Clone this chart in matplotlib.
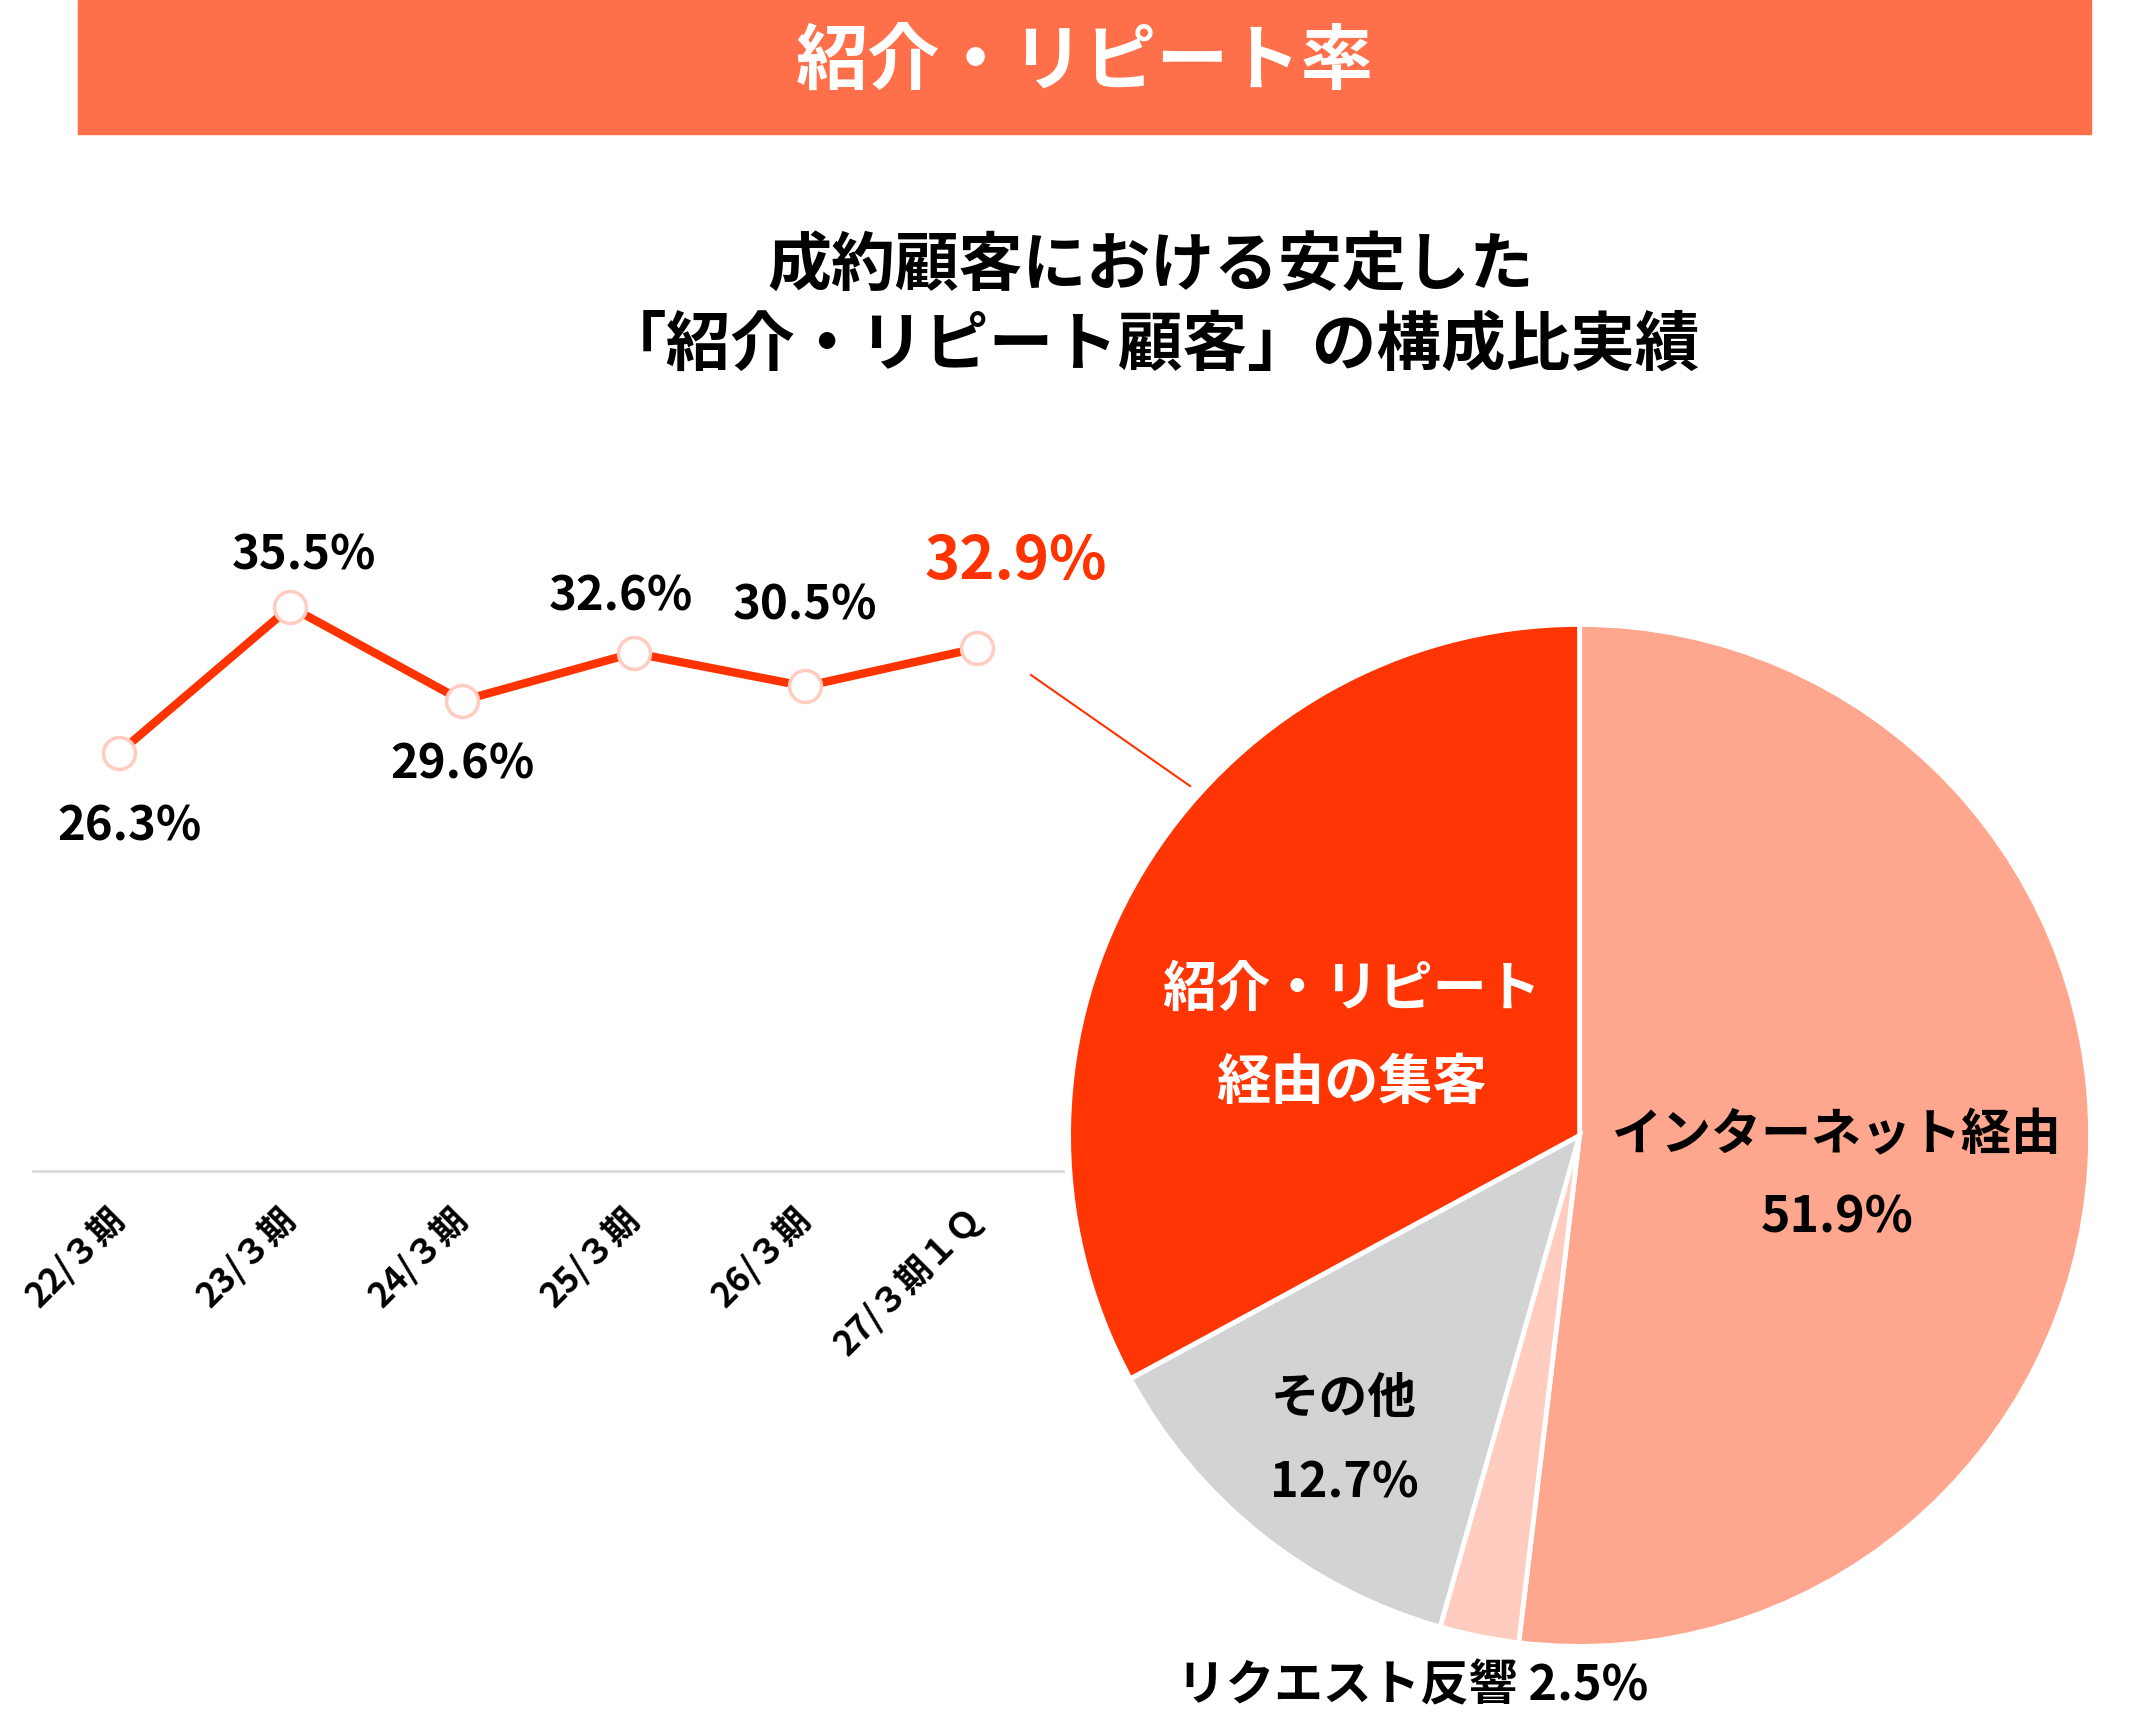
import matplotlib
matplotlib.use('Agg')
import matplotlib.pyplot as plt
from matplotlib.patches import Rectangle
from matplotlib.lines import Line2D

plt.rcParams['font.family'] = ['Noto Sans CJK JP', 'DejaVu Sans']
plt.rcParams['font.weight'] = 'bold'

# data
periods = ['22/３期', '23/３期', '24/３期', '25/３期', '26/３期', '27/３期１Ｑ']
rates = [26.3, 35.5, 29.6, 32.6, 30.5, 32.9]
rate_labels = ['26.3%', '35.5%', '29.6%', '32.6%', '30.5%', '32.9%']

pie_names = ['インターネット経由', 'リクエスト反響', 'その他', '紹介・リピート\n経由の集客']
pie_values = [51.9, 2.5, 12.7, 32.9]

RED = '#FF3300'
W, H = 2150, 1732

fig = plt.figure(figsize=(W / 100, H / 100), dpi=100)

# header bar
fig.patches.append(Rectangle((78 / W, 1 - 134 / H), (2091 - 78) / W, 134 / H,
                             transform=fig.transFigure, color='#FF6F4A', zorder=0))
fig.text(0.5044, 0.963, '紹介・リピート率', color='white', fontsize=52,
         ha='center', va='center', fontweight='bold')

fig.text(0.535, 0.846, '成約顧客における安定した', fontsize=46,
         ha='center', va='center', fontweight='bold')
fig.text(0.5355, 0.8005, '「紹介・リピート顧客」の構成比実績', fontsize=46.5,
         ha='center', va='center', fontweight='bold')

# line chart
ax = fig.add_axes([0.0153, 0.3239, 0.4791, 0.367])
x = list(range(len(rates)))
ax.plot(x, rates, color=RED, lw=6, marker='o', ms=23, mfc='white',
        mec='#FFCCBF', mew=2.5, zorder=3, clip_on=False)
ax.set_xlim(-0.5, 5.5)
ax.set_ylim(0, 40)
for s in ['top', 'right', 'left']:
    ax.spines[s].set_visible(False)
ax.spines['bottom'].set_color('#D9D9D9')
ax.spines['bottom'].set_linewidth(2)
ax.set_yticks([])
ax.set_xticks(x)
ax.set_xticklabels(periods, rotation=45, ha='right', va='center',
                   rotation_mode='anchor', fontsize=25, fontweight='bold')
ax.tick_params(axis='x', length=0, pad=30)

offsets = [(8, -53), (10, 37), (0, -46), (-9, 41), (0, 58), (28, 62)]
for i, (v, lab) in enumerate(zip(rates, rate_labels)):
    last = i == len(rates) - 1
    ax.annotate(lab, (i, v), xytext=offsets[i], textcoords='offset points',
                ha='center', va='center', fontweight='bold',
                fontsize=43 if last else 34, color=RED if last else 'black')

# connector from line to pie slice
fig.add_artist(Line2D([0.4795, 0.5535], [0.6103, 0.5462], color=RED, lw=1.5,
                      transform=fig.transFigure))

# pie chart
r = 511
cx, cy = 1579.6, 1135.4
pax = fig.add_axes([(cx - r) / W, 1 - (cy + r) / H, 2 * r / W, 2 * r / H])
pax.pie(pie_values, colors=['#FFA78E', '#FFCCBF', '#D2D3D5', '#FF3503'],
        startangle=90, counterclock=False, radius=1,
        wedgeprops=dict(edgecolor='white', linewidth=3.5))
pax.set_xlim(-1, 1)
pax.set_ylim(-1, 1)
pax.axis('off')

def label(px, py, lines, color, gap, size=35):
    for k, t in enumerate(lines):
        pax.text(px, py - k * gap, t, ha='center', va='center', fontsize=size,
                 fontweight='bold', color=color, clip_on=False)

label(0.504, 0.0, [pie_names[0], '51.9%'], 'black', 0.161, 36)
label(-0.461, -0.515, [pie_names[2], '12.7%'], 'black', 0.166)
label(-0.447, 0.284, pie_names[3].split('\n'), 'white', 0.182, 39)
label(-0.327, -1.078, [pie_names[1] + ' 2.5%'], 'black', 0)

fig.savefig('out.png', dpi=100)
